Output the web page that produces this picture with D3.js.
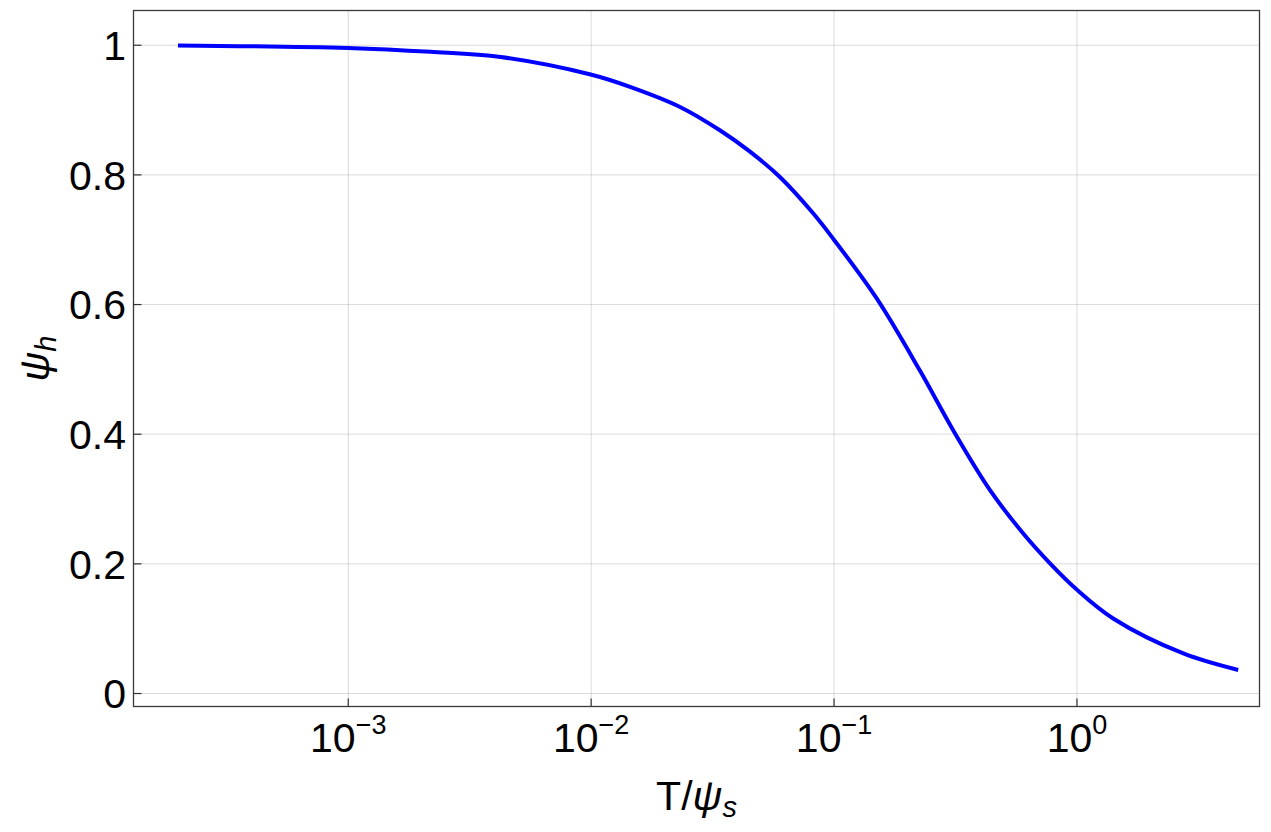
<!DOCTYPE html>
<html>
<head>
<meta charset="utf-8">
<style>
  body { margin: 0; background: #fff; }
  svg { display: block; font-family: 'Liberation Sans', Arial, sans-serif; }
  .tick text { font-size: 41px; fill: #000; }
  .axis .domain { display: none; }
  .axis .tick line { stroke: #333; stroke-width: 1.2; }
  .grid .tick line { stroke: rgba(0, 0, 0, 0.14); stroke-width: 1; }
  .grid .domain { display: none; }
  .grid text { display: none; }
</style>
</head>
<body>
<svg width="1271" height="832"></svg>
<script src="https://d3js.org/d3.v7.min.js"></script>
<script>
  // values
  let tValues = [2.0e-4, 1.0e-3, 2.19e-3, 4.26e-3, 1.0e-2, 1.452e-2, 2.333e-2, 3.404e-2, 4.529e-2,
    6.012e-2, 8.241e-2, 0.1, 0.1503, 0.227, 0.3112, 0.4406, 0.6039, 0.778, 1.0, 1.416, 2.754, 4.634]
  let psiValues = [0.999, 0.995, 0.989, 0.981, 0.954, 0.935, 0.904, 0.868, 0.835,
    0.796, 0.740, 0.700, 0.609, 0.497, 0.405, 0.313, 0.246, 0.200, 0.160, 0.115, 0.061, 0.0355]

  let xTicks = [1e-3, 1e-2, 1e-1, 1]
  let xTickExp = ["−3", "−2", "−1", "0"]
  let yTicks = [0, 0.2, 0.4, 0.6, 0.8, 1]

  let margin = { left: 133.5, right: 1259.5, top: 10.5, bottom: 706.5 }

  let svg = d3.select("svg")

  let x = d3.scaleLog()
    .domain([1.312e-4, 5.67])
    .range([margin.left, margin.right])

  let y = d3.scaleLinear()
    .domain([-0.0208, 1.0528])
    .range([margin.bottom, margin.top])

  // grid
  svg.append("g")
    .attr("class", "grid")
    .attr("transform", `translate(0,${margin.bottom})`)
    .call(d3.axisBottom(x).tickValues(xTicks).tickSize(-(margin.bottom - margin.top)))

  svg.append("g")
    .attr("class", "grid")
    .attr("transform", `translate(${margin.left},0)`)
    .call(d3.axisLeft(y).tickValues(yTicks).tickSize(-(margin.right - margin.left)))

  // curve
  let line = d3.line()
    .x((d, i) => x(tValues[i]))
    .y(d => y(d))
    .curve(d3.curveCatmullRom.alpha(0.5))

  svg.append("path")
    .datum(psiValues)
    .attr("fill", "none")
    .attr("stroke", "#0000ff")
    .attr("stroke-width", 4)
    .attr("stroke-linejoin", "round")
    .attr("d", line)

  // frame
  svg.append("rect")
    .attr("x", margin.left)
    .attr("y", margin.top)
    .attr("width", margin.right - margin.left)
    .attr("height", margin.bottom - margin.top)
    .attr("fill", "none")
    .attr("stroke", "#3a3a3a")
    .attr("stroke-width", 1.3)

  // axes, ticks pointing inward
  let xAxis = svg.append("g")
    .attr("class", "axis")
    .attr("transform", `translate(0,${margin.bottom})`)
    .call(d3.axisBottom(x).tickValues(xTicks).tickSize(-8).tickFormat(""))

  xAxis.selectAll(".tick text")
    .attr("y", 45)
    .attr("dy", 0)
    .each(function (d, i) {
      let t = d3.select(this)
      t.append("tspan").text("10")
      t.append("tspan")
        .attr("dy", -18)
        .style("font-size", "27px")
        .text(xTickExp[i])
    })

  svg.append("g")
    .attr("class", "axis")
    .attr("transform", `translate(${margin.left},0)`)
    .call(d3.axisLeft(y).tickValues(yTicks).tickSize(-8).tickPadding(7.5)
      .tickFormat(d => d == 0 || d == 1 ? d3.format("d")(d) : d3.format(".1f")(d)))
    .selectAll(".tick text")
    .attr("dy", "0.36em")

  // axis labels
  let xLab = svg.append("text")
    .attr("x", (margin.left + margin.right) / 2)
    .attr("y", 810)
    .attr("text-anchor", "middle")
    .style("font-size", "41px")
  xLab.append("tspan").text("T/")
  xLab.append("tspan").style("font-style", "italic").text("ψ")
  xLab.append("tspan").attr("dy", 7).style("font-style", "italic").style("font-size", "29px").text("s")

  let yLab = svg.append("text")
    .attr("transform", `translate(49,${(margin.top + margin.bottom) / 2}) rotate(-90)`)
    .attr("text-anchor", "middle")
    .style("font-size", "41px")
  yLab.append("tspan").style("font-style", "italic").text("ψ")
  yLab.append("tspan").attr("dy", 7).style("font-style", "italic").style("font-size", "29px").text("h")
</script>
</body>
</html>
